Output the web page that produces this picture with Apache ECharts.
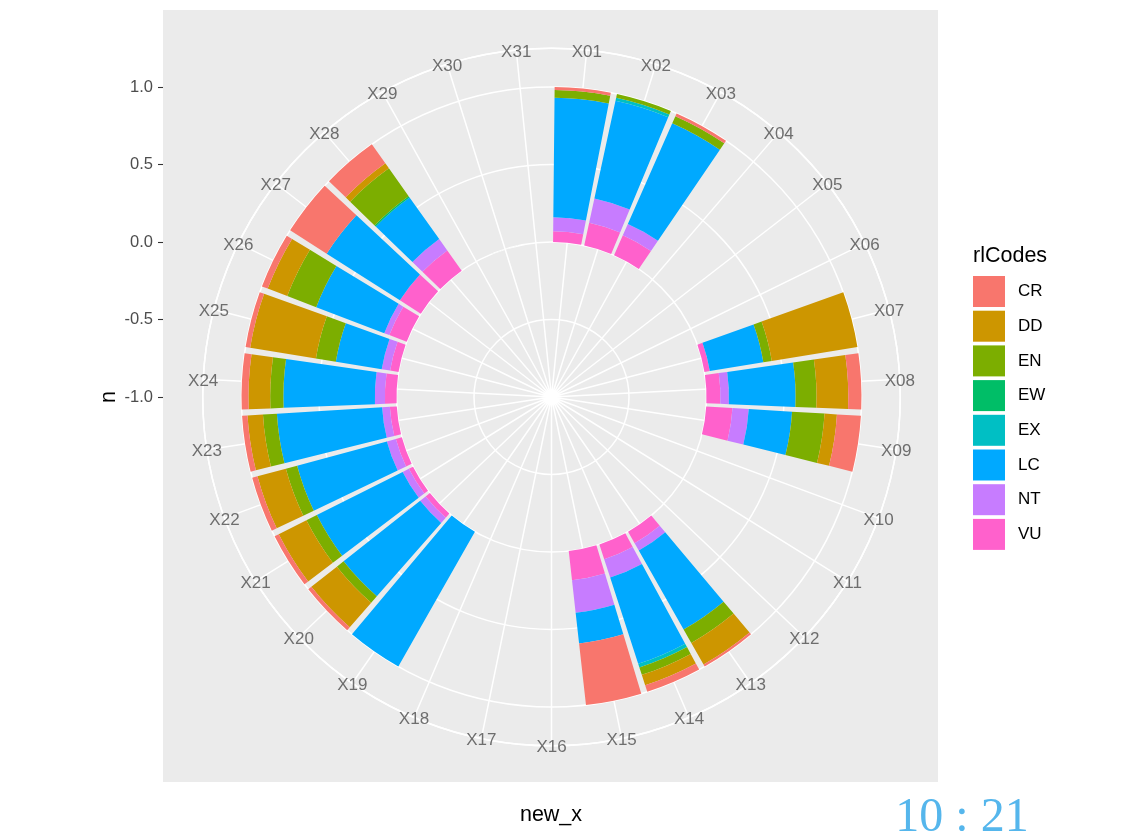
<!DOCTYPE html>
<html>
<head>
<meta charset="utf-8">
<script src="https://cdn.jsdelivr.net/npm/echarts@6/dist/echarts.min.js"></script>
<style>
html, body { margin: 0; padding: 0; background: #fff; }
#chart { width: 1137px; height: 834px; }
</style>
</head>
<body>
<div id="chart"></div>
<script>
"use strict";
const categories = ['X01', 'X02', 'X03', 'X04', 'X05', 'X06', 'X07', 'X08', 'X09', 'X10',
    'X11', 'X12', 'X13', 'X14', 'X15', 'X16', 'X17', 'X18', 'X19', 'X20',
    'X21', 'X22', 'X23', 'X24', 'X25', 'X26', 'X27', 'X28', 'X29', 'X30', 'X31'];
const codes = ['CR', 'DD', 'EN', 'EW', 'EX', 'LC', 'NT', 'VU'];
const colors = {
    CR: '#F8766D', DD: '#CD9600', EN: '#7CAE00', EW: '#00BE67',
    EX: '#00BFC4', LC: '#00A9FF', NT: '#C77CFF', VU: '#FF61CC'
};
// proportion of each code per category
const VU = [.07, .15, .14, 0, 0, 0, .035, .09, .17, 0, 0, 0, .085, .1, .19, 0, 0, 0, 0, .035, .03, .04, .045, .075, .055, .12, .16, .16, 0, 0, 0];
const NT = [.09, .16, .08, 0, 0, 0, 0, .055, .105, 0, 0, 0, .055, .125, .21, 0, 0, 0, 0, .045, .045, .06, .05, .065, .055, .035, 0, .09, 0, 0, 0];
const LC = [.77, .645, .71, 0, 0, 0, .35, .43, .28, 0, 0, 0, .585, .585, .2, 0, 0, 0, 1, .63, .62, .6, .68, .59, .3, .47, .56, .33, 0, 0, 0];
const EX = [0, .02, 0, 0, 0, 0, 0, 0, 0, 0, 0, 0, 0, .025, 0, 0, 0, 0, 0, 0, 0, 0, 0, 0, 0, 0, 0, 0, 0, 0, 0];
const EW = [0, 0, 0, 0, 0, 0, 0, 0, 0, 0, 0, 0, 0, 0, 0, 0, 0, 0, 0, 0, 0, 0, 0, 0, 0, 0, 0, .01, 0, 0, 0];
const EN = [.05, .025, .05, 0, 0, 0, .055, .135, .21, 0, 0, 0, .1, .05, 0, 0, 0, 0, 0, .055, .075, .075, .09, .085, .13, .2, 0, .22, 0, 0, 0];
const DD = [0, 0, 0, 0, 0, 0, .56, .205, .08, 0, 0, 0, .16, .07, 0, 0, 0, 0, 0, .21, .2, .19, .1, .14, .43, .135, 0, .04, 0, 0, 0];
const CR = [.02, 0, .02, 0, 0, 0, 0, .085, .155, 0, 0, 0, .015, .045, .4, 0, 0, 0, 0, .025, .03, .035, .035, .045, .03, .04, .28, .15, 0, 0, 0];
const radialMin = -1;
const radialMax = 1.25;

const values = { CR, DD, EN, EW, EX, LC, NT, VU };
// ggplot stacks the first level on the outside
const stackOrder = codes.slice().reverse();
const font = 'Liberation Sans';
const center = [551.5, 397];
const outerRadius = 348.75;

const chart = echarts.init(document.getElementById('chart'));

const hiddenAxis = {
    axisLine: { show: false },
    axisTick: { show: false },
    axisLabel: { show: false },
    splitLine: { show: false }
};
const gridLine = { color: '#FFFFFF', width: 1.5 };

const barSeries = stackOrder.map(code => ({
    name: code,
    type: 'bar',
    coordinateSystem: 'polar',
    polarIndex: 0,
    stack: 'n',
    barCategoryGap: '10%',
    data: values[code],
    itemStyle: { color: colors[code] },
    silent: true
}));

const option = {
    animation: false,
    graphic: [
        {
            type: 'rect', z: -100, silent: true,
            shape: { x: 163, y: 10, width: 775, height: 772 },
            style: { fill: '#EBEBEB' }
        },
        {
            type: 'text', x: 973, y: 256,
            style: { text: 'rlCodes', fontFamily: font, fontSize: 21.5, fill: '#000', align: 'left', verticalAlign: 'middle' }
        },
        {
            type: 'text', x: 109, y: 397, rotation: Math.PI / 2,
            style: { text: 'n', fontFamily: font, fontSize: 21.5, fill: '#000', align: 'center', verticalAlign: 'middle' }
        },
        {
            type: 'text', x: 551, y: 815,
            style: { text: 'new_x', fontFamily: font, fontSize: 21.5, fill: '#000', align: 'center', verticalAlign: 'middle' }
        },
        {
            type: 'text', x: 962, y: 818,
            style: { text: '10 : 21', fontFamily: 'Liberation Serif', fontSize: 48, fill: '#55B6EC', align: 'center', verticalAlign: 'middle' }
        }
    ],
    legend: {
        data: codes,
        orient: 'vertical',
        left: 973,
        top: 276,
        padding: 0,
        itemWidth: 32,
        itemHeight: 31,
        itemGap: 3.7,
        icon: 'rect',
        selectedMode: false,
        textStyle: { fontFamily: font, fontSize: 17, color: '#000', padding: [0, 0, 0, 8] }
    },
    grid: { left: 163, top: 87, width: 20, height: 310, show: false },
    xAxis: { type: 'value', show: false },
    yAxis: {
        type: 'value',
        min: radialMin,
        max: 1,
        interval: 0.5,
        position: 'left',
        axisLine: { show: false },
        axisTick: { show: true, length: 5, lineStyle: { color: '#333333', width: 1.1 } },
        axisLabel: { margin: 10, color: '#4D4D4D', fontFamily: font, fontSize: 16.5, formatter: v => v.toFixed(1) },
        splitLine: { show: false }
    },
    polar: [
        { center: center, radius: outerRadius },
        { center: center, radius: outerRadius }
    ],
    angleAxis: [
        { polarIndex: 0, type: 'category', data: categories, startAngle: 90, ...hiddenAxis },
        {
            // shifted half a band so its split lines sit on category centres
            polarIndex: 1, type: 'category', data: categories, startAngle: 90 - 180 / categories.length,
            axisLine: { show: true, lineStyle: gridLine },
            axisTick: { show: false },
            axisLabel: { show: false, interval: 0 },
            splitLine: { show: true, interval: 0, lineStyle: gridLine }
        }
    ],
    radiusAxis: [
        { polarIndex: 0, type: 'value', min: radialMin, max: radialMax, interval: 0.5, ...hiddenAxis },
        {
            polarIndex: 1, type: 'value', min: radialMin, max: radialMax, interval: 0.5,
            axisLine: { show: false },
            axisTick: { show: false },
            axisLabel: { show: false },
            splitLine: { show: true, lineStyle: gridLine }
        }
    ],
    series: barSeries.concat([{
        name: 'labels',
        type: 'scatter',
        coordinateSystem: 'polar',
        polarIndex: 0,
        silent: true,
        z: 5,
        symbolSize: 0,
        data: categories.map((c, i) => [radialMax, i]),
        label: {
            show: true,
            position: 'inside',
            offset: [0, 2],
            color: '#4D4D4D',
            fontFamily: font,
            fontSize: 17,
            formatter: p => categories[p.dataIndex]
        }
    }])
};

chart.setOption(option);
</script>
</body>
</html>
